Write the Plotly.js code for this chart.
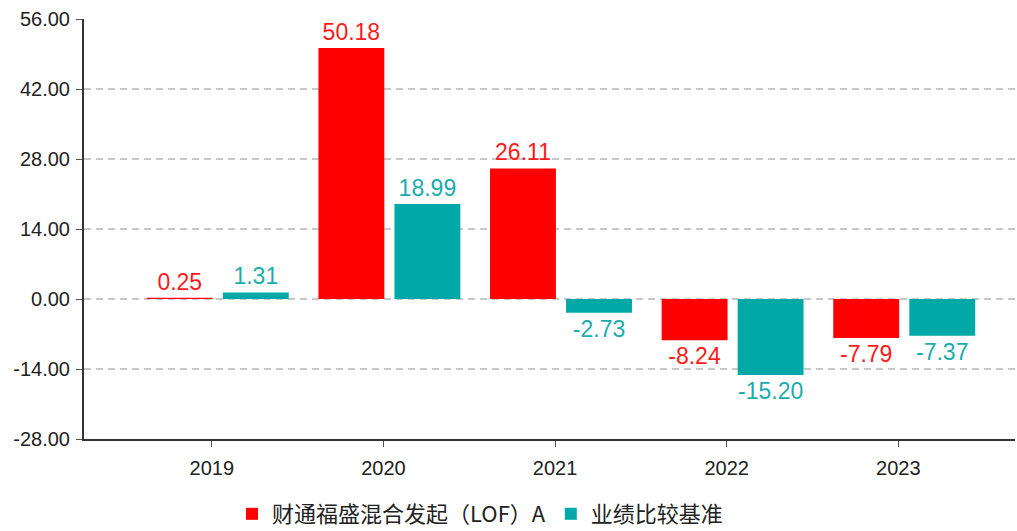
<!DOCTYPE html>
<html>
<head>
<meta charset="utf-8">
<script src="https://cdn.plot.ly/plotly-3.0.1.min.js"></script>
<style>html,body{margin:0;padding:0;background:#fff;overflow:hidden;}#chart{width:1017px;height:531px;}</style>
</head>
<body>
<div id="chart"></div>
<script>
const years = ['2019', '2020', '2021', '2022', '2023'];
const fundName = '财通福盛混合发起（LOF）A';
const benchName = '业绩比较基准';
const fundValues = [0.25, 50.18, 26.11, -8.24, -7.79];
const benchValues = [1.31, 18.99, -2.73, -15.20, -7.37];
const yTicks = [-28, -14, 0, 14, 28, 42, 56];

const fmt = v => v.toFixed(2);
const labelFont = 'Liberation Sans, Arial';
const traces = [
  {
    type: 'bar', name: fundName, x: years, y: fundValues,
    marker: {color: '#ff0000'},
    offset: -0.379, width: 0.384,
    text: fundValues.map(fmt), textposition: 'outside', cliponaxis: false,
    textfont: {color: '#ff1a1a', size: 23, family: labelFont}
  },
  {
    type: 'bar', name: benchName, x: years, y: benchValues,
    marker: {color: '#00a8a8'},
    offset: 0.064, width: 0.384,
    text: benchValues.map(fmt), textposition: 'outside', cliponaxis: false,
    textfont: {color: '#1aacac', size: 23, family: labelFont}
  }
];

const layout = {
  width: 1017, height: 531,
  margin: {l: 84, r: 2, t: 19, b: 92},
  paper_bgcolor: '#fff', plot_bgcolor: '#fff',
  showlegend: true,
  legend: {
    orientation: 'h', xref: 'container', yref: 'container',
    x: 0.472, xanchor: 'center', y: 0.032, yanchor: 'middle',
    font: {size: 22, color: '#222', family: 'Noto Sans CJK SC, sans-serif'},
    traceorder: 'normal', tracegroupgap: 0, itemwidth: 30
  },
  xaxis: {
    type: 'category', range: [-0.745, 4.68],
    showline: true, linecolor: '#333', linewidth: 2,
    ticks: 'outside', ticklen: 6, tickcolor: '#555', tickwidth: 1,
    showgrid: false, ticklabelstandoff: 4,
    tickfont: {size: 20, color: '#222', family: labelFont}
  },
  yaxis: {
    range: [-28, 56], tickvals: yTicks, ticktext: yTicks.map(fmt),
    showline: true, linecolor: '#333', linewidth: 2,
    ticks: 'outside', ticklen: 6, tickcolor: '#555', tickwidth: 1,
    showgrid: true, gridcolor: '#c8c8c8', gridwidth: 1.5, griddash: '7px,5px',
    zeroline: false, ticklabelstandoff: 2,
    tickfont: {size: 20, color: '#222', family: labelFont}
  },
  font: {family: labelFont}
};

Plotly.newPlot('chart', traces, layout, {displayModeBar: false, staticPlot: true});
</script>
</body>
</html>
